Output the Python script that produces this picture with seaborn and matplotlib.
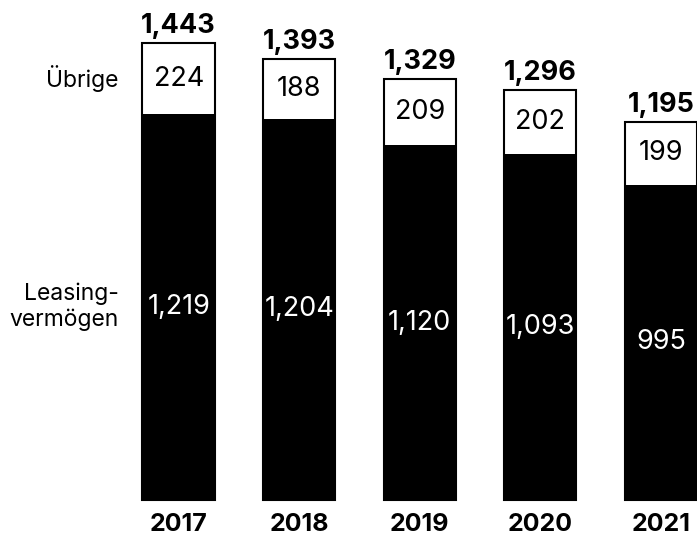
import pandas as pd
import seaborn as sns
import matplotlib.pyplot as plt

years = ["2017", "2018", "2019", "2020", "2021"]
leasing = [1219, 1204, 1120, 1093, 995]
uebrige = [224, 188, 209, 202, 199]
totals = [1443, 1393, 1329, 1296, 1195]

df = pd.DataFrame({"year": years, "leasing": leasing, "uebrige": uebrige, "total": totals})

sns.set_style("white")
plt.rcParams['font.family'] = ['Inter', 'DejaVu Sans']
plt.rcParams['text.color'] = 'black'

fig = plt.figure(figsize=(6.97, 5.38), dpi=100)
ax = fig.add_axes([0, 0, 1, 1])

# full bar in white with outline, then leasing part in black on top
sns.barplot(data=df, x="year", y="total", color="white", edgecolor="black",
            linewidth=1.5, width=0.6, saturation=1, ax=ax)
sns.barplot(data=df, x="year", y="leasing", color="black", edgecolor="black",
            linewidth=0, width=0.6, saturation=1, ax=ax)

for i, row in df.iterrows():
    ax.text(i, row["leasing"] / 2, f"{row['leasing']:,}", ha="center", va="center",
            color="white", fontsize=19.5)
    ax.text(i, row["leasing"] + row["uebrige"] / 2, f"{row['uebrige']:,}", ha="center",
            va="center", color="black", fontsize=19.5)
    ax.text(i, row["total"] + 12, f"{row['total']:,}", ha="center", va="bottom",
            fontsize=19.5, fontweight="bold")
    ax.text(i, -76, row["year"], ha="center", va="center", fontsize=18, fontweight="bold")

ax.text(-0.5, leasing[0] + uebrige[0] / 2, "Übrige", ha="right", va="center", fontsize=16.5)
ax.text(-0.5, leasing[0] / 2, "Leasing-\nvermögen", ha="right", va="center",
        fontsize=16.5, multialignment="right", linespacing=1.2)

ax.set_xlim(-1.482, 4.3)
ax.set_ylim(-120, 1579)
ax.axis("off")

fig.savefig("out.png", dpi=100)
